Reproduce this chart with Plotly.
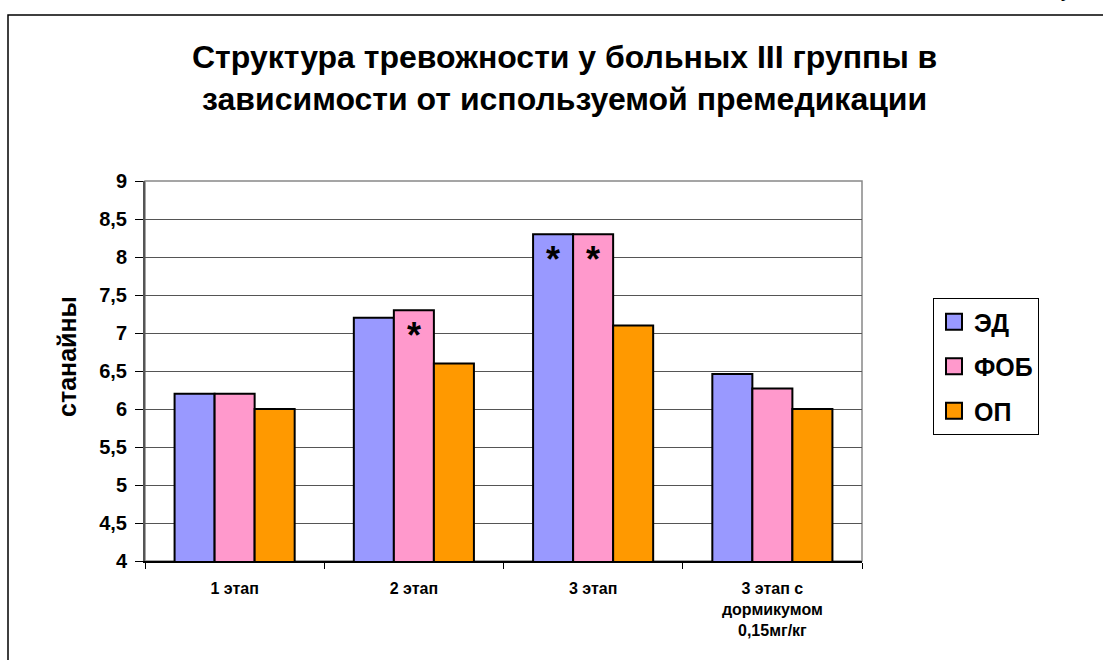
import plotly.graph_objects as go

categories = ["1 этап", "2 этап", "3 этап", "3 этап с<br>дормикумом<br>0,15мг/кг"]
series_names = ["ЭД", "ФОБ", "ОП"]
ed_values = [6.2, 7.2, 8.3, 6.46]
fob_values = [6.2, 7.3, 8.3, 6.27]
op_values = [6.0, 6.6, 7.1, 6.0]
colors = ["#9999FF", "#FF99CC", "#FF9900"]
# significance marks: (series index, category index)
star_marks = [(1, 1), (0, 2), (1, 2)]
y_tick_vals = [4, 4.5, 5, 5.5, 6, 6.5, 7, 7.5, 8, 8.5, 9]
y_tick_text = ["4", "4,5", "5", "5,5", "6", "6,5", "7", "7,5", "8", "8,5", "9"]

title_text = "Структура тревожности у больных III группы в<br>зависимости от используемой премедикации"
y_title = "станайны"

values = [ed_values, fob_values, op_values]
FONT = "Liberation Sans, Arial, sans-serif"

fig = go.Figure()
for i, (name, vals, col) in enumerate(zip(series_names, values, colors)):
    fig.add_trace(go.Bar(
        x=categories, y=vals, name=name, showlegend=False,
        marker=dict(color=col, line=dict(color="black", width=2)),
    ))
# legend entries with large square swatches
for i, (name, col) in enumerate(zip(series_names, colors)):
    fig.add_trace(go.Scatter(
        x=[None], y=[None], mode="markers", name=name, legendgroup=name,
        marker=dict(symbol="square", size=16, color=col, line=dict(color="black", width=2)),
    ))

bargap = 0.33
bw = (1 - bargap) / 3
for s, c in star_marks:
    fig.add_annotation(
        x=c + (s - 1) * bw, y=values[s][c], xref="x", yref="y",
        text="<b>*</b>", showarrow=False, yanchor="top", yshift=-3,
        font=dict(family=FONT, size=36, color="black"),
    )

L, R, T, B = 145, 862, 181, 561
W, H = 1103, 660
def px(x):
    return (x - L) / (R - L)
def py(y):
    return (B - y) / (B - T)

# outer chart border
fig.add_shape(type="rect", xref="paper", yref="paper",
              x0=px(8), x1=px(1110), y0=py(680), y1=py(15),
              line=dict(color="black", width=1.5), fillcolor="rgba(0,0,0,0)", layer="below")

fig.add_annotation(xref="paper", yref="paper", x=px(564), y=py(78), text="<b>" + title_text + "</b>",
                   showarrow=False, font=dict(family=FONT, size=32, color="black"),
                   xanchor="center", yanchor="middle", align="center")

fig.add_annotation(xref="paper", yref="paper", x=px(67), y=py(357), text="<b>" + y_title + "</b>",
                   showarrow=False, textangle=-90, font=dict(family=FONT, size=25, color="black"),
                   xanchor="center", yanchor="middle")

fig.add_annotation(xref="paper", yref="paper", x=px(1066), y=py(-12), text="у",
                   showarrow=False, font=dict(family="Liberation Serif, serif", size=22, color="black"),
                   xanchor="center", yanchor="middle")

fig.update_layout(
    width=W, height=H,
    margin=dict(l=L, r=W - R, t=T, b=H - B),
    paper_bgcolor="white", plot_bgcolor="white",
    barmode="group", bargap=bargap, bargroupgap=0,
    font=dict(family=FONT, color="black"),
    legend=dict(
        x=px(933), y=py(298), xanchor="left", yanchor="top",
        bordercolor="black", borderwidth=1, bgcolor="white",
        font=dict(family=FONT, size=25, color="black", weight="bold"),
        itemsizing="trace", tracegroupgap=9, itemwidth=30,
    ),
    showlegend=True,
)
fig.update_xaxes(
    type="category", tickson="boundaries", ticks="outside", ticklen=6, tickcolor="black",
    showline=True, linecolor="black", linewidth=1.5, mirror=False,
    tickfont=dict(family=FONT, size=16, color="black", weight="bold"),
    ticklabelstandoff=12,
    showgrid=False,
)
fig.update_yaxes(
    range=[4, 9], tickmode="array", tickvals=y_tick_vals,
    ticktext=["<b>" + t + "</b>" for t in y_tick_text],
    ticks="outside", ticklen=8, tickcolor="black",
    showline=True, linecolor="#555555", linewidth=2,
    gridcolor="#555555", gridwidth=1.3,
    tickfont=dict(family=FONT, size=20, color="black", weight="bold"),
    ticklabelstandoff=4,
)
# gray frame on top and right of plot area
fig.add_shape(type="rect", xref="paper", yref="paper", x0=0, x1=1, y0=0, y1=1,
              line=dict(color="#888888", width=1.5), layer="below")

fig.write_html("out.html")
